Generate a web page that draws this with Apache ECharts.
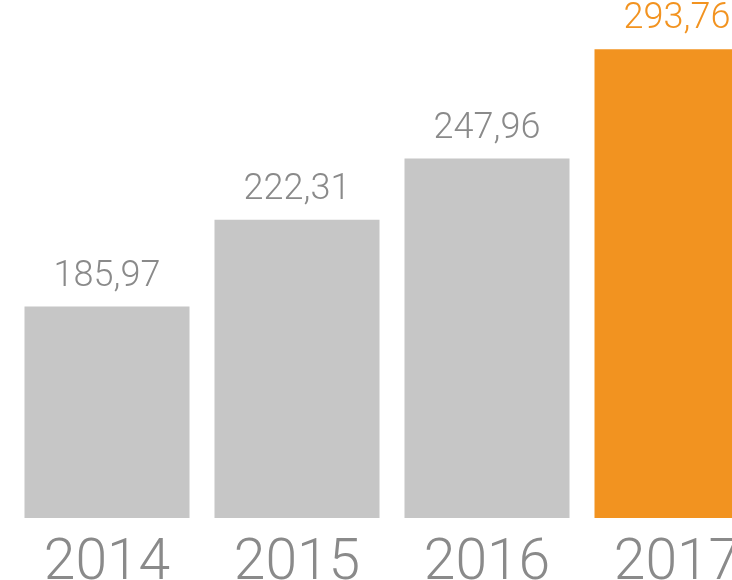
<!DOCTYPE html>
<html>
<head>
<meta charset="utf-8">
<script src="https://cdn.jsdelivr.net/npm/echarts@6/dist/echarts.min.js"></script>
<style>
	html, body { margin: 0; padding: 0; background: #fff; }
	#chart { width: 732px; height: 580px; }
</style>
</head>
<body>
<div id="chart"></div>
<script>
// data
var years = ['2014', '2015', '2016', '2017'];
var values = [185.97, 222.31, 247.96, 293.76];
var highlightYear = '2017';

var grey = '#c6c6c6';
var greyText = '#8a8a8a';
var orange = '#f29320';
var font = 'Roboto, "Liberation Sans", sans-serif';

var chart = echarts.init(document.getElementById('chart'));

// 把小数点换成逗号
function fmt(v) {
	return v.toFixed(2).replace('.', ',');
}

var barData = values.map(function (v, i) {
	var hot = years[i] === highlightYear;
	return {
		value: v,
		itemStyle: { color: hot ? orange : grey },
		label: { color: hot ? orange : greyText }
	};
});

var option = {
	animation: false,
	grid: {
		left: 12,
		top: 0,
		width: 760,
		height: 518,
		containLabel: false,
		outerBoundsMode: 'none'
	},
	xAxis: {
		type: 'category',
		data: years,
		axisLine: { show: false },
		axisTick: { show: false },
		axisLabel: {
			margin: 18,
			fontSize: 57,
			fontFamily: font,
			fontWeight: 300,
			color: greyText,
			interval: 0
		}
	},
	yAxis: {
		type: 'value',
		min: 97.4,
		max: 314.4,
		show: false,
		splitLine: { show: false }
	},
	series: [{
		type: 'bar',
		barWidth: 165,
		data: barData,
		label: {
			show: true,
			position: 'top',
			distance: 12,
			fontSize: 36,
			fontFamily: font,
			fontWeight: 300,
			formatter: function (p) { return fmt(p.value); }
		}
	}]
};

chart.setOption(option);
</script>
</body>
</html>
